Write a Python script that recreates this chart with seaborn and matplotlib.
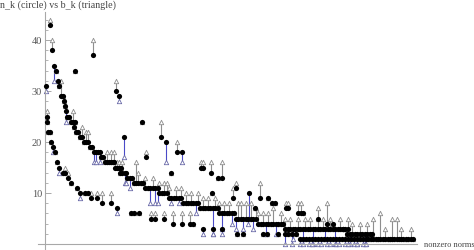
import matplotlib
matplotlib.use("Agg")
import matplotlib.pyplot as plt
from matplotlib.ticker import MultipleLocator
import pandas as pd
import seaborn as sns

# ---------------- data ----------------
# main staircase strand
main_k = [5, 7, 9, 10.5, 12.5, 14, 16, 17.5, 18.5, 19.5, 21, 22, 24, 26, 28, 29, 30, 31, 33, 35,
          37, 39, 41, 43, 45, 47, 48.5, 50.5, 52.5, 54.5, 56, 58, 59.5, 61.5, 63.5, 65.5, 67.5, 69, 70, 72,
          74, 76, 74.5, 77, 79.5, 81, 82, 84.5, 87, 88.5, 90.5, 93, 95.5, 98, 100, 102.5, 105, 107.5, 110, 112.5,
          114, 116.5, 119, 121.5, 123.5, 126, 128.5, 131, 133.5, 136, 138, 140.5, 143, 145.5, 148, 150.5, 153, 155, 157.5, 160,
          162.5, 165, 167.5, 170, 172.5, 174, 176.5, 179, 181.5, 184, 186.5, 189, 190.5, 193, 195.5, 198, 200.5, 203, 205.5, 208,
          210.5, 213, 215.5, 218, 220.5, 223, 225.5, 228, 230.5, 233, 235.5, 238, 240, 242.5, 245, 247.5, 250, 252.5, 255, 257.5,
          260, 262.5, 265, 267.5, 270, 272.5, 275, 277.5, 280, 282.5, 285, 287.5, 290, 292.5, 295, 297.5, 300, 302.5, 302, 304.5,
          307, 309.5, 312, 314.5, 317, 319.5, 322, 324.5, 327, 323, 325.5, 328, 330.5, 333, 335, 337.5, 340, 342.5, 345, 346.5,
          349, 351.5, 354, 355.5, 358, 360.5, 363, 365.5, 368]
main_n = [43, 38, 35, 34, 32, 31, 29, 29, 28, 27, 26, 25, 25, 24, 24, 23, 24, 22, 22, 21,
          21, 20, 20, 20, 19, 19, 18, 18, 18, 18, 17, 17, 16, 16, 16, 16, 16, 16, 15, 15,
          15, 15, 14, 14, 14, 14, 13, 13, 13, 12, 12, 12, 12, 12, 11, 11, 11, 11, 11, 11,
          10, 10, 10, 10, 9, 9, 9, 9, 9, 9, 8, 8, 8, 8, 8, 8, 8, 7, 7, 7,
          7, 7, 7, 7, 7, 6, 6, 6, 6, 6, 6, 6, 5, 5, 5, 5, 5, 5, 5, 5,
          5, 4, 4, 4, 4, 4, 4, 4, 4, 4, 4, 4, 3, 3, 3, 3, 3, 3, 3, 3,
          3, 3, 3, 3, 3, 3, 3, 3, 3, 3, 3, 3, 3, 3, 3, 3, 3, 3, 2, 2,
          2, 2, 2, 2, 2, 2, 2, 2, 2, 1, 1, 1, 1, 1, 1, 1, 1, 1, 1, 1,
          1, 1, 1, 1, 1, 1, 1, 1, 1]
main_b = [44, 40, 32, 34, 32, 31, 32, 29, 28, 27, 24, 25, 25, 24, 26, 23, 24, 22, 22, 21,
          23, 20, 22, 22, 19, 19, 16, 16, 18, 16, 17, 17, 16, 18, 16, 18, 16, 18, 16, 16,
          16, 15, 14, 16, 12, 12, 13, 11, 13, 12, 16, 14, 12, 12, 13, 11, 8, 13, 8, 8,
          12, 10, 12, 12, 11, 8, 9, 11, 8, 11, 8, 10, 8, 10, 8, 6, 10, 7, 9, 7,
          9, 7, 2, 9, 7, 8, 3, 8, 6, 8, 4, 6, 3, 8, 8, 3, 8, 4, 8, 3,
          7, 6, 4, 6, 2, 6, 4, 7, 2, 4, 6, 4, 5, 3, 5, 1, 3, 5, 3, 1,
          5, 3, 5, 0, 3, 5, 3, 5, 1, 3, 5, 3, 0, 3, 5, 3, 3, 5, 2, 0,
          4, 2, 0, 4, 2, 0, 4, 2, 2, 1, 1, 5, 1, 1, 6, 1, 3, 1, 1, 5,
          1, 5, 1, 3, 1, 1, 1, 3, 1]

# lower strand
lower_k = [1, 1.5, 2, 3, 4.5, 5.5, 7.5, 9.5, 11.5, 14, 18, 20, 22.5, 26, 32, 35, 40, 43, 46, 51.5,
           57, 66, 71.5, 86, 88.5, 94, 106, 110, 119, 128, 137, 145, 148, 158, 168, 177, 191.5, 198, 218, 222,
           233, 240, 243, 247, 251, 255, 258, 261, 264, 267, 270, 273, 276, 279, 282, 285, 288, 291, 294, 297,
           300, 303, 306, 309, 312, 315, 318, 321]
lower_n = [31, 25, 24, 22, 22, 20, 19, 18, 16, 15, 14, 14, 13, 12, 11, 10, 10, 10, 9, 9,
           8, 8, 7, 6, 6, 6, 5, 5, 5, 4, 4, 4, 4, 3, 3, 3, 2, 2, 2, 2,
           2, 2, 2, 2, 2, 1, 1, 1, 1, 1, 1, 1, 1, 1, 1, 1, 1, 1, 1, 1,
           1, 1, 1, 1, 1, 1, 1, 1]
lower_b = [30, 26, 24, 22, 22, 20, 18, 18, 16, 14, 14, 15, 14, 12, 11, 9, 10, 10, 10, 10,
           10, 10, 6, 6, 6, 6, 6, 6, 6, 6, 6, 6, 4, 2, 2, 2, 2, 2, 2, 2,
           2, 0, 2, 0, 2, 0, 0, 1, 0, 0, 1, 0, 0, 1, 0, 0, 1, 0, 0, 1,
           0, 0, 1, 0, 0, 1, 0, 0]

# upper scattered strand
upper_k = [30, 48, 71, 74.3, 79.3, 96.7, 101, 115.7, 120.7, 125.7, 131.7, 136.7, 155.5, 157.5, 165.5, 166.7,
           172.7, 176.7, 187.7, 190.7, 204, 210, 215, 223.3, 227, 230, 241, 242.5, 253, 255.5, 258, 273,
           281.7, 288, 298]
upper_n = [34, 37, 30, 29, 21, 24, 17, 21, 20, 14, 18, 18, 15, 15, 14, 10,
           13, 13, 9, 11, 10, 7, 9, 9, 8, 8, 7, 7, 6, 6, 6, 5,
           4, 4, 3]
upper_b = [34, 40, 32, 28, 17, 24, 18, 24, 16, 14, 20, 16, 16, 16, 16, 10,
           13, 16, 11, 12, 5, 7, 12, 9, 8, 8, 8, 8, 8, 8, 6, 7,
           8, 4, 3]

y_ticks = [10, 20, 30, 40]
title_text = "n_k (circle) vs b_k (triangle)"
x_label = "nonzero norms"

# ---------------- plot ----------------
sns.set_theme(style="white")
plt.rcParams['font.family'] = ['Liberation Serif', 'DejaVu Serif']

df = pd.DataFrame({
    "k": main_k + lower_k + upper_k,
    "n": main_n + lower_n + upper_n,
    "b": main_b + lower_b + upper_b,
})

fig = plt.figure(figsize=(4.74, 2.5), dpi=100)
ax = fig.add_axes([38 / 474, 1 - 249 / 250, 379 / 474, 237 / 250])
ax.set_xlim(-7, 372)
ax.set_ylim(-0.98, 45.5)

up = df[df.b >= df.n]
down = df[df.b < df.n]
upl = df[df.b > df.n]
ax.vlines(upl.k, upl.n, upl.b, color="#8e8e8e", lw=0.8, zorder=1)
ax.vlines(down.k, down.n, down.b, color="#4a4ac8", lw=0.8, zorder=1)

sns.scatterplot(data=up, x="k", y="b", marker="^", s=10, color="white",
                edgecolor="#8e8e8e", linewidth=0.6, ax=ax, zorder=2, legend=False)
sns.scatterplot(data=down, x="k", y="b", marker="^", s=10, color="white",
                edgecolor="#6a6aa8", linewidth=0.6, ax=ax, zorder=2, legend=False)
sns.scatterplot(data=df, x="k", y="n", color="black", s=14, linewidth=0,
                ax=ax, zorder=3, legend=False)

for side in ["top", "right"]:
    ax.spines[side].set_visible(False)
ax.spines["left"].set_position(("data", 0))
ax.spines["bottom"].set_position(("data", 0))
for side in ["left", "bottom"]:
    ax.spines[side].set_color("#a8a8a8")
    ax.spines[side].set_linewidth(0.8)

ax.set_xticks([])
ax.set_yticks(y_ticks)
ax.set_yticklabels([str(t) for t in y_ticks])
ax.yaxis.set_minor_locator(MultipleLocator(2))
ax.tick_params(axis="y", which="major", direction="in", length=4, width=0.7,
               color="#a8a8a8", labelsize=7.5, labelcolor="#555555", pad=2, left=True)
ax.tick_params(axis="y", which="minor", direction="in", length=2, width=0.6,
               color="#a8a8a8", left=True)
ax.set_xlabel("")
ax.set_ylabel("")
ax.patch.set_alpha(0)

fig.text(0.0, 1 - 5 / 250, title_text, ha="left", va="center",
         fontsize=7.2, color="#444444")
fig.text(424 / 474, 1 - 245 / 250, x_label, ha="left", va="center",
         fontsize=6, color="#444444")

fig.savefig("out.png", dpi=100)
